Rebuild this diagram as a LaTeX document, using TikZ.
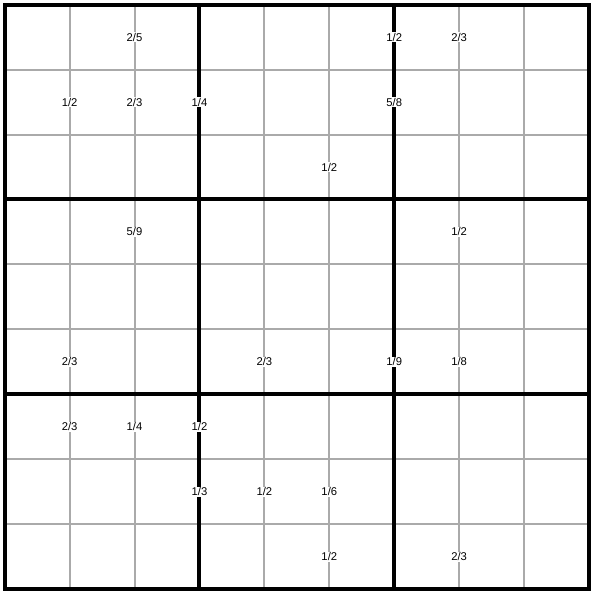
\documentclass[tikz,border=0pt]{standalone}
\usepackage{fontspec}
\setmainfont{Liberation Sans}
\definecolor{gridgray}{HTML}{AAAAAA}
\begin{document}
\begin{tikzpicture}[scale=1.6225,
	frac/.style={fill=white,inner sep=0.6pt,font=\fontsize{8}{9}\selectfont}]
				\useasboundingbox (-0.0724,-0.1695) rectangle (9.1695,9.0724);
				\foreach \k in {1,2,4,5,7,8}
					{\draw[gridgray,line width=1.4pt] (\k,0) -- (\k,9);
					\draw[gridgray,line width=1.4pt] (0,\k) -- (9,\k);}
				\foreach \k in {3,6}
					{\draw[line width=2.85pt] (\k,0) -- (\k,9);
					\draw[line width=2.85pt] (0,\k) -- (9,\k);}
				\draw[line width=2.85pt] (0,0) rectangle (9,9);
				
				\foreach \x/\y/\num/\den in
					{2/8.5/2/5, 6/8.5/1/2, 7/8.5/2/3,
					1/7.5/1/2, 2/7.5/2/3, 3/7.5/1/4, 6/7.5/5/8,
					5/6.5/1/2,
					2/5.5/5/9, 7/5.5/1/2,
					1/3.5/2/3, 4/3.5/2/3, 6/3.5/1/9, 7/3.5/1/8,
					1/2.5/2/3, 2/2.5/1/4, 3/2.5/1/2,
					3/1.5/1/3, 4/1.5/1/2, 5/1.5/1/6,
					5/0.5/1/2, 7/0.5/2/3}
					\node[frac] (q\x-\y) at (\x,\y) {\num/\den};
\end{tikzpicture}
\end{document}
